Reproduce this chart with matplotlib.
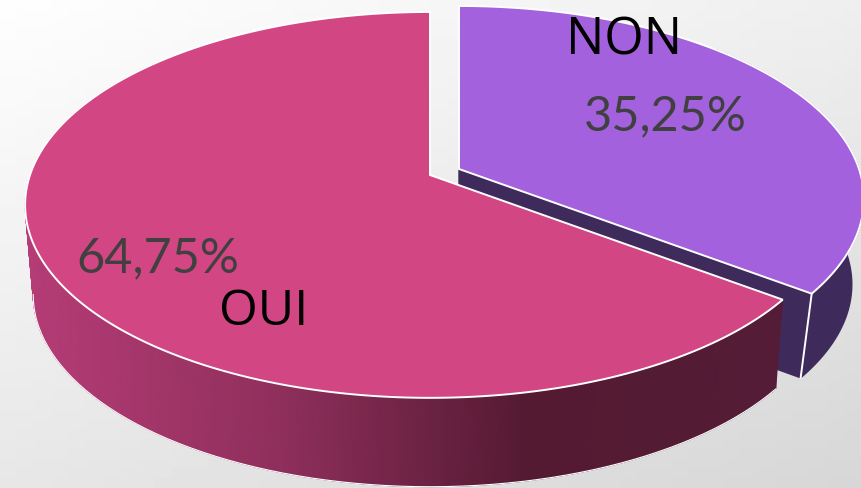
import numpy as np
import matplotlib
matplotlib.use('Agg')
import matplotlib.pyplot as plt
from matplotlib.colors import LinearSegmentedColormap

# Slices, clockwise from 12 o'clock
categories = ['NON', 'OUI']
shares = [35.25, 64.75]
pct_labels = ['35,25%', '64,75%']

PINK = '#d24684'
PURPLE = '#a461dd'
DARK_PURPLE = '#3f2a5c'
TEXT_GREY = '#404040'

wall_cmap = LinearSegmentedColormap.from_list('wall', ['#b53c76', '#8f2f5c', '#541a32', '#541c36'])

# angle limits of each slice, in radians clockwise from the top
edges = np.radians(np.cumsum([0] + shares) * 3.6)


def project(theta, cx, cy, sx=1.0, sy=1.0):
    # perspective view of the unit disc, the far side looks smaller
    k = 0.155
    u, v = np.sin(theta), np.cos(theta)
    w = 1 + k * v
    return cx + sx * 400 * u / w, cy - sy * 188.3 * v / w


fig = plt.figure(figsize=(8.61, 4.88), dpi=100)
ax = fig.add_axes([0, 0, 1, 1])
ax.set_xlim(0, 861)
ax.set_ylim(488, 0)
ax.axis('off')

# background
yy, xx = np.mgrid[0:1:50j, 0:1:50j]
ax.imshow(0.995 - 0.06 * xx - 0.09 * yy - 0.003 * xx * yy, extent=[0, 861, 488, 0], cmap='gray',
          vmin=0, vmax=1, aspect='auto', zorder=0)

# NON slice, pulled out to the upper right
apex_non = (459, 169)
t = np.linspace(edges[0], edges[1], 150)
px, py = project(t, *apex_non)
low = dict(cx=apex_non[0] - 4, cy=apex_non[1] + 86, sx=0.98, sy=0.985)
bx, by = project(t, **low)
corner = t[-1]
cx_top, cy_top = project(corner, *apex_non)
cx_low, cy_low = project(corner, **low)

# outer wall of NON
mask = t > np.radians(45)
ax.fill(np.r_[px[mask], bx[mask][::-1]], np.r_[py[mask], by[mask][::-1]], color=DARK_PURPLE, zorder=2)
# inner wall of NON
ax.fill([apex_non[0], cx_top, cx_low, apex_non[0]], [apex_non[1], cy_top, cy_low, apex_non[1] + 86],
        color=DARK_PURPLE, zorder=2)
ax.plot([cx_top, cx_low], [cy_top, cy_low], color='white', lw=1.4, zorder=3)
ax.fill(np.r_[apex_non[0], px], np.r_[apex_non[1], py], facecolor=PURPLE, edgecolor='white', lw=1.4,
        joinstyle='miter', zorder=4)

# OUI slice
apex_oui = (430, 175)
t = np.linspace(edges[1], edges[2], 300)
px, py = project(t, *apex_oui)
low = dict(cx=apex_oui[0], cy=apex_oui[1] + 90, sx=0.98, sy=0.995)

# outer wall of OUI with its gradient
tw = np.linspace(edges[1], np.radians(315), 200)
x1, y1 = project(tw, *apex_oui)
x2, y2 = project(tw, **low)
mesh_x = np.vstack([x1, x2])
mesh_y = np.vstack([y1, y2])
ax.pcolormesh(mesh_x, mesh_y, mesh_x, cmap=wall_cmap, shading='gouraud', vmin=30, vmax=780, zorder=5)
front = tw < np.radians(262)
ax.plot(x2[front], y2[front], color='white', lw=0.8, zorder=5)
ax.fill(np.r_[apex_oui[0], px], np.r_[apex_oui[1], py], facecolor=PINK, edgecolor='white', lw=1.4,
        joinstyle='miter', zorder=6)

# labels
ax.text(624, 41, categories[0], fontsize=36.5, family='Open Sans', color='black', ha='center', va='center', zorder=7)
ax.text(665, 116, pct_labels[0], fontsize=35, family='Lato', color=TEXT_GREY, ha='center', va='center', zorder=7)
ax.text(158, 258, pct_labels[1], fontsize=35, family='Lato', color=TEXT_GREY, ha='center', va='center', zorder=7)
ax.text(264, 312, categories[1], fontsize=36, family='Open Sans', color='black', ha='center', va='center', zorder=7)

fig.savefig('out.png', dpi=100)
